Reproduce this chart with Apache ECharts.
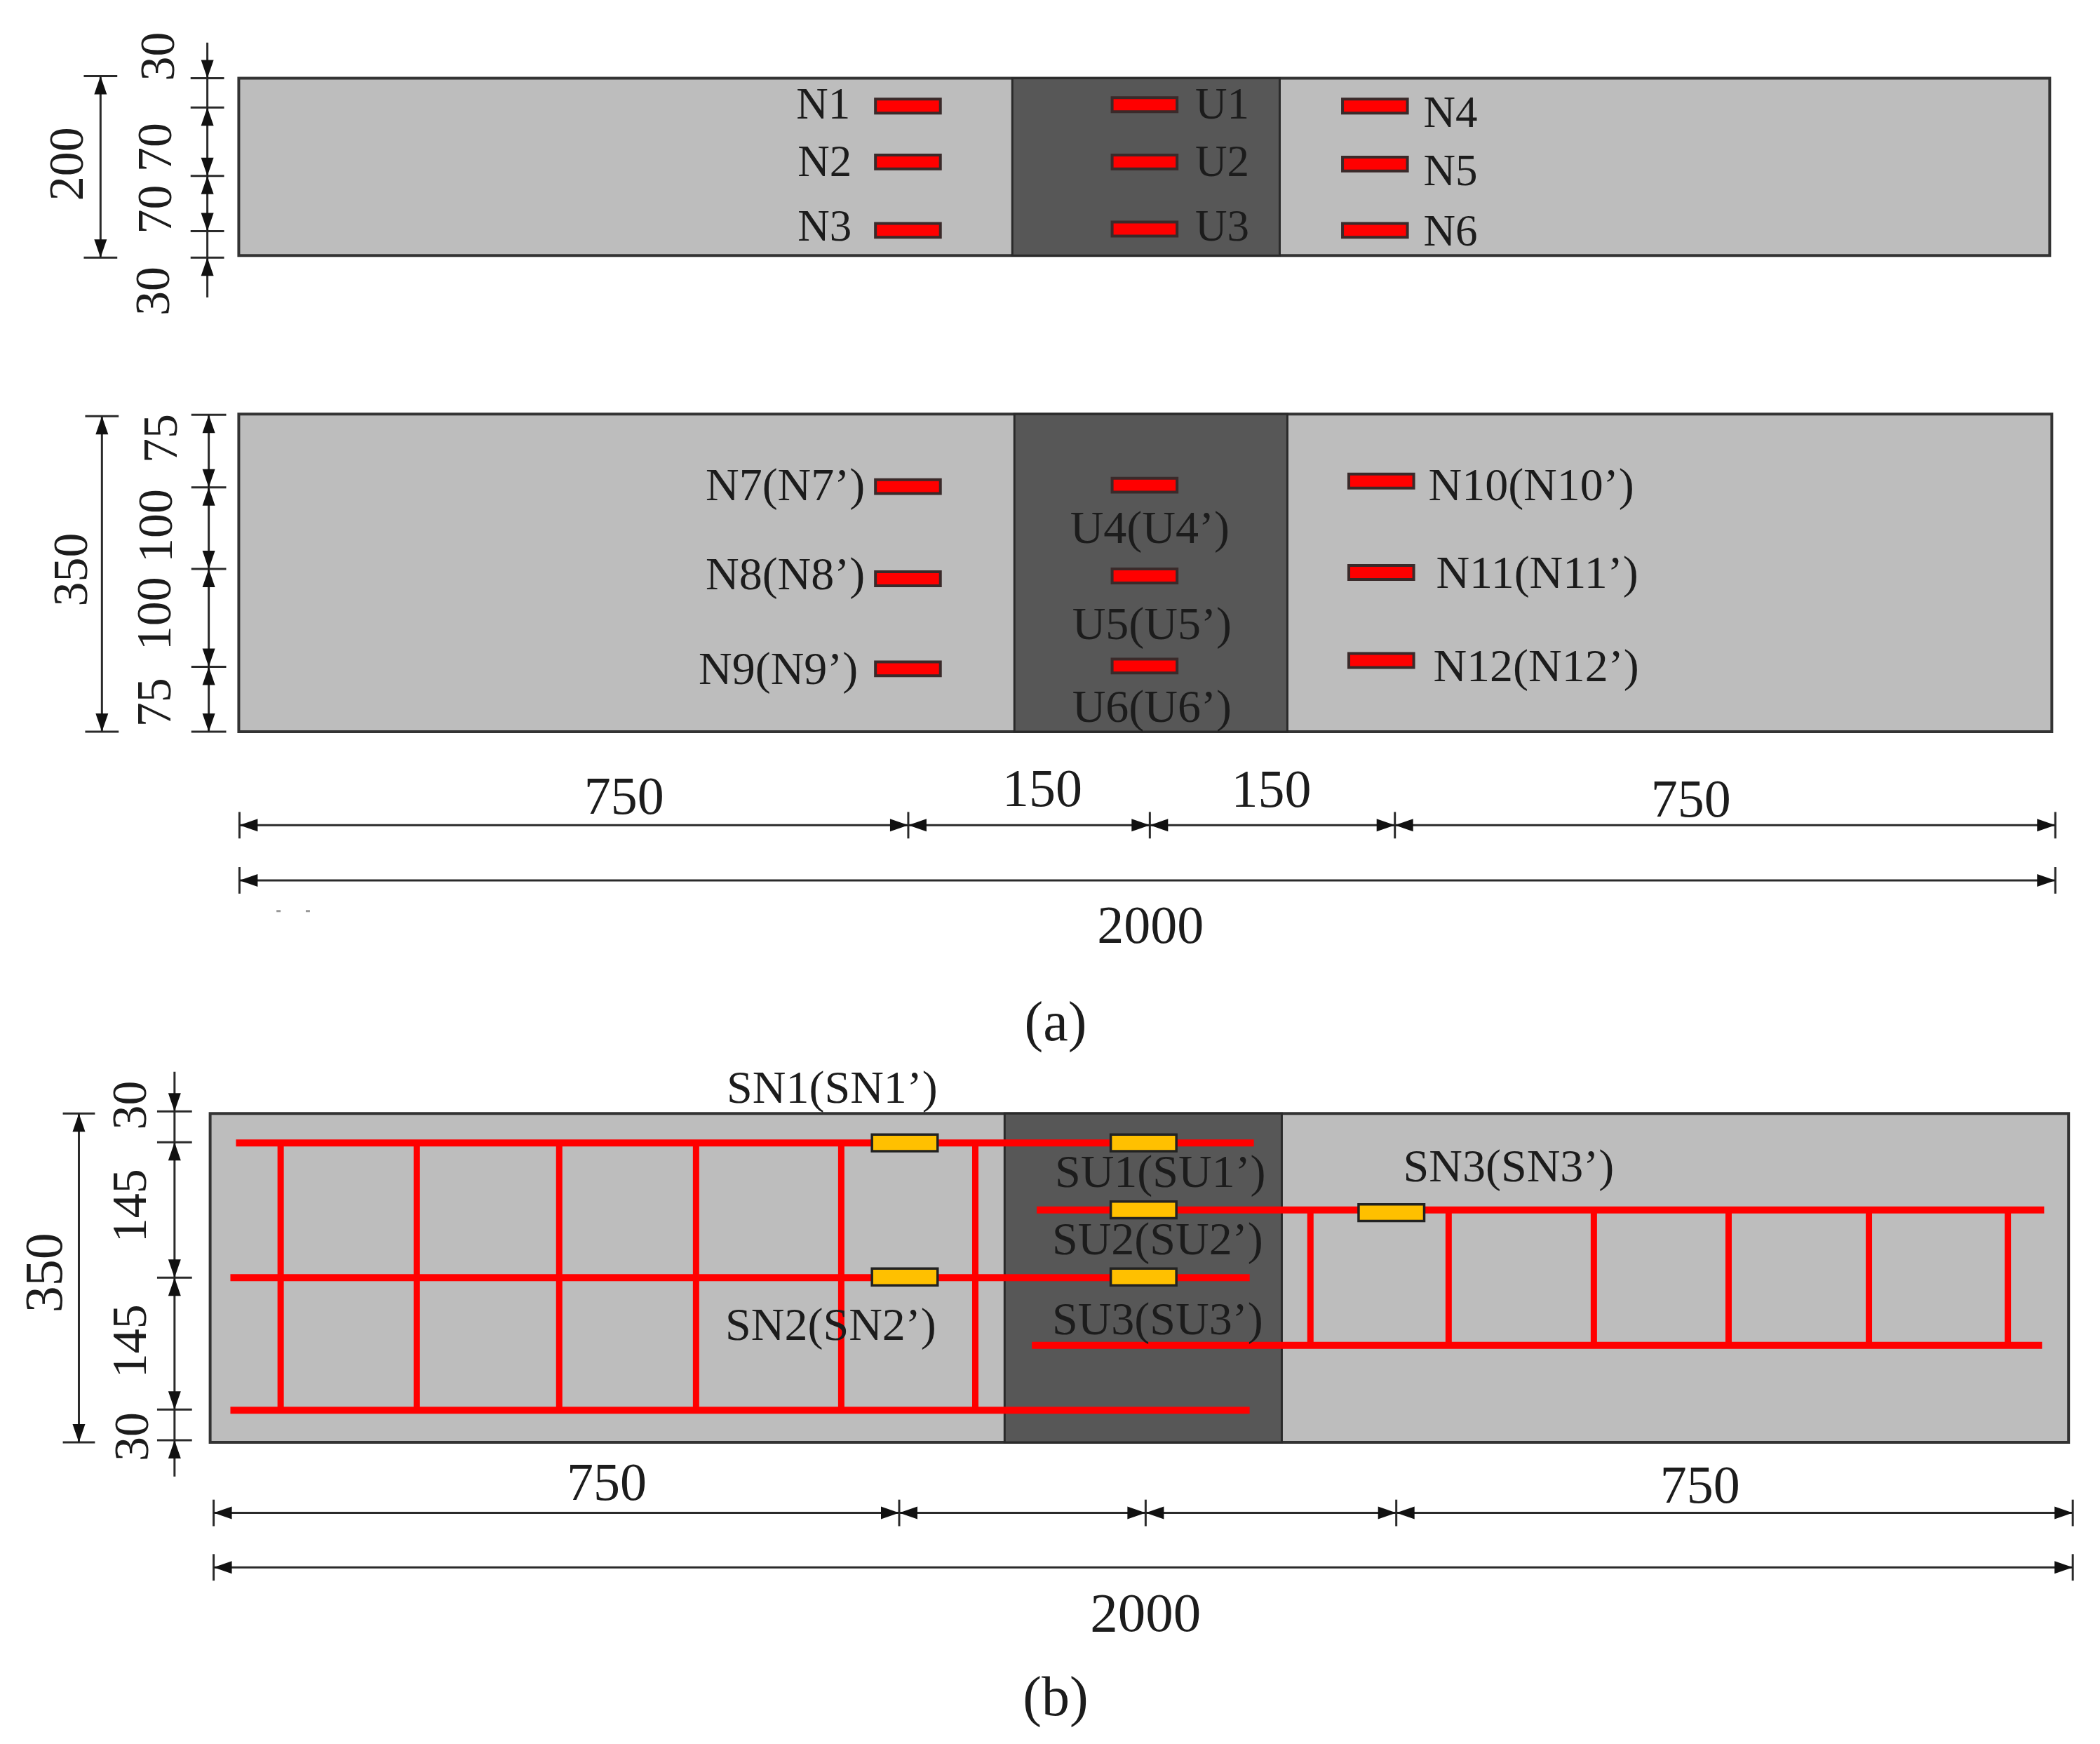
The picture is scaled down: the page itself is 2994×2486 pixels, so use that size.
<!DOCTYPE html>
<html><head><meta charset="utf-8"><style>html,body{margin:0;padding:0;background:#fff}#c{width:2994px;height:2486px}</style>
<script src="https://cdn.jsdelivr.net/npm/echarts@6/dist/echarts.min.js"></script></head>
<body><div id="c"></div>
<script>
// All values are in drawing units on the one hidden value-axis pair (x1,y1,x2,y2)
const lightPanels=[[342,112,2936,366],[342,593,2939,1048],[301,1595,2963,2066]];
const darkZones=[[1450,112,1833,366],[1453,593,1844,1048],[1439,1595,1836,2066]];
const redGauges=[
 [1254,152],[1254,232],[1254,330],[1593,150],[1593,232],[1593,328],[1923,152],[1923,235],[1923,330],
 [1254,697],[1254,829],[1254,958],[1593,695],[1593,825],[1593,954],[1932,689],[1932,820],[1932,946]];
const yellowGauges=[[1249,1637],[1249,1829],[1591,1637],[1591,1733],[1591,1829],[1946,1737]];
const rebars=[[338,1637,1796,1637],[1485,1733,2928,1733],[330,1830,1790,1830],[1478,1927,2925,1927],[330,2020,1790,2020]];
const stirrupsLeft=[402,597,801,997,1205,1397];
const stirrupsRight=[1877,2075,2283,2476,2677,2876];
const vChains=[
 {x:144,h:24,t:[109,369],a:[[109,'U'],[369,'D']]},
 {x:297,h:24,t:[112,154,252,331,369],ext:[61,426],a:[[112,'D'],[154,'U'],[252,'D'],[252,'U'],[331,'D'],[369,'U']]},
 {x:146,h:24,t:[596,1048],a:[[596,'U'],[1048,'D']]},
 {x:299,h:25,t:[594,698,815,955,1048],a:[[594,'U'],[698,'D'],[698,'U'],[815,'D'],[815,'U'],[955,'D'],[955,'U'],[1048,'D']]},
 {x:113,h:23,t:[1595,2066],a:[[1595,'U'],[2066,'D']]},
 {x:250,h:25,t:[1592,1636,1830,2019,2063],ext:[1535,2115],a:[[1592,'D'],[1636,'U'],[1830,'D'],[1830,'U'],[2019,'D'],[2063,'U']]}];
const hChains=[
 {y:1182,h:19,t:[343,1301,1647,1998,2944]},
 {y:1261,h:19,t:[343,2944]},
 {y:2167,h:19,t:[306,1288,1641,2000,2969]},
 {y:2245,h:19,t:[306,2969]}];
const specks=[[396,1305,402,1305],[438,1305,444,1305]];
const textsA=[
 [1218,153,'N1','right'],[1220,236,'N2','right'],[1220,328,'N3','right'],
 [1712,153,'U1','left'],[1712,236,'U2','left'],[1712,328,'U3','left'],
 [2039,165,'N4','left'],[2039,249,'N5','left'],[2039,335,'N6','left']];
const textsB=[
 [1239,699,'N7(N7’)','right'],[1239,827,'N8(N8’)','right'],[1229,962,'N9(N9’)','right'],
 [1647,760,'U4(U4’)','center'],[1650,898,'U5(U5’)','center'],[1650,1017,'U6(U6’)','center'],
 [2046,699,'N10(N10’)','left'],[2057,825,'N11(N11’)','left'],[2053,958,'N12(N12’)','left'],
 [1192,1562,'SN1(SN1’)','center'],[1190,1902,'SN2(SN2’)','center'],[1662,1683,'SU1(SU1’)','center'],
 [1658,1779,'SU2(SU2’)','center'],[1658,1894,'SU3(SU3’)','center'],[2161,1675,'SN3(SN3’)','center']];
const dimTexts=[
 [894,1146,'750'],[1493,1134,'150'],[1821,1136,'150'],[2422,1150,'750'],[1648,1330,'2000'],
 [869,2128,'750'],[2435,2132,'750']];
const dimTextsLarge=[[1641,2315,'2000']];
const rotTexts=[
 [100,235,'200'],[231,81,'30'],[227,211,'70'],[227,300,'70'],[224,417,'30'],
 [106,816,'350'],[235,628,'75'],[228,753,'100'],[226,879,'100'],[226,1006,'75'],
 [190,1583,'30'],[190,1727,'145'],[190,1921,'145'],[194,2058,'30']];
const rotTextsLarge=[[68,1823,'350']];
const captions=[[1512,1469,'(a)'],[1512,2436,'(b)']];

const GW=93,GH=20,YW=94,YH=24;
const ink='#1c1c1c';
const FONT='"Liberation Serif","Times New Roman",serif';

function rectSeries(data,fill,stroke,lw,z){
 return {type:'custom',coordinateSystem:'cartesian2d',silent:true,z:z,data:data,
  renderItem:(p,api)=>{const a=api.coord([api.value(0),api.value(1)]),b=api.coord([api.value(2),api.value(3)]);
   return {type:'rect',shape:{x:a[0],y:a[1],width:b[0]-a[0],height:b[1]-a[1]},style:{fill:fill,stroke:stroke,lineWidth:lw}};}};
}
function segSeries(data,color,lw,z){
 return {type:'custom',coordinateSystem:'cartesian2d',silent:true,z:z,data:data,
  renderItem:(p,api)=>{const a=api.coord([api.value(0),api.value(1)]),b=api.coord([api.value(2),api.value(3)]);
   return {type:'line',shape:{x1:a[0],y1:a[1],x2:b[0],y2:b[1]},style:{stroke:color,lineWidth:lw}};}};
}
function textSeries(data,size,rot,z){
 return {type:'custom',coordinateSystem:'cartesian2d',silent:true,z:z,data:data.map(d=>[d[0],d[1]]),
  renderItem:(p,api)=>{const a=api.coord([api.value(0),api.value(1)]),d=data[p.dataIndex];
   return {type:'text',x:a[0],y:a[1],rotation:rot,style:{text:d[2],align:d[3]||'center',verticalAlign:'middle',fill:ink,font:size+'px '+FONT}};}};
}
const dimSegs=[],arrows=[];
vChains.forEach(c=>{
 const lo=c.ext?c.ext[0]:c.t[0],hi=c.ext?c.ext[1]:c.t[c.t.length-1];
 dimSegs.push([c.x,lo,c.x,hi]);
 c.t.forEach(y=>dimSegs.push([c.x-c.h,y,c.x+c.h,y]));
 c.a.forEach(a=>arrows.push([c.x,a[0],a[1]==='U'?0:1]));
});
hChains.forEach(c=>{
 dimSegs.push([c.t[0],c.y,c.t[c.t.length-1],c.y]);
 c.t.forEach((x,i)=>{dimSegs.push([x,c.y-c.h,x,c.y+c.h]);
  if(i>0)arrows.push([x,c.y,3]);
  if(i<c.t.length-1)arrows.push([x,c.y,2]);});
});
const arrowSeries={type:'custom',coordinateSystem:'cartesian2d',silent:true,z:6,data:arrows,
 renderItem:(p,api)=>{const a=api.coord([api.value(0),api.value(1)]),k=api.value(2),L=26,W=9;
  const pts=k===0?[[0,0],[-W,L],[W,L]]:k===1?[[0,0],[-W,-L],[W,-L]]:k===2?[[0,0],[L,-W],[L,W]]:[[0,0],[-L,-W],[-L,W]];
  return {type:'polygon',shape:{points:pts.map(q=>[a[0]+q[0],a[1]+q[1]])},style:{fill:'#111'}};}};
const stirrupSegs=[];
stirrupsLeft.forEach(x=>stirrupSegs.push([x,1637,x,2020]));
stirrupsRight.forEach(x=>stirrupSegs.push([x,1733,x,1927]));

const chart=echarts.init(document.getElementById('c'),null,{renderer:'canvas',devicePixelRatio:1});
chart.setOption({animation:false,backgroundColor:'#fff',
 grid:{left:0,right:0,top:0,bottom:0},
 xAxis:{type:'value',min:0,max:3008,show:false},
 yAxis:{type:'value',min:0,max:2498,inverse:true,show:false},
 series:[
  rectSeries(lightPanels,'#bdbdbd','#333',4,1),
  rectSeries(darkZones,'#575757','#2a2a2a',3,2),
  segSeries(stirrupSegs,'#ff0000',9,3),
  segSeries(rebars,'#ff0000',10,3),
  rectSeries(redGauges.map(g=>[g[0],g[1]-GH/2,g[0]+GW,g[1]+GH/2]),'#ff0000','#3a2a2a',4,4),
  rectSeries(yellowGauges.map(g=>[g[0],g[1]-YH/2,g[0]+YW,g[1]+YH/2]),'#ffc000','#222',3.5,4),
  segSeries(dimSegs,'#2a2a2a',3,5),
  segSeries(specks,'#999',3,5),
  arrowSeries,
  textSeries(textsA,63,0,7),
  textSeries(textsB,66,0,7),
  textSeries(dimTexts,76,0,7),
  textSeries(dimTextsLarge,79,0,7),
  textSeries(rotTexts,70,Math.PI/2,7),
  textSeries(rotTextsLarge,76,Math.PI/2,7),
  textSeries(captions,80,0,7)
 ]});
</script></body></html>
